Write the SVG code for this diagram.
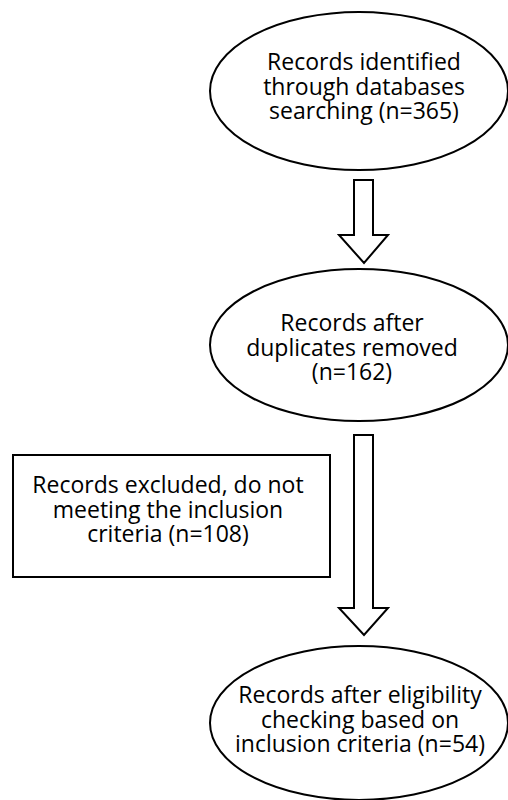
<svg xmlns="http://www.w3.org/2000/svg" width="508" height="800" viewBox="0 0 508 800">
<style>
.shape{fill:#fff;stroke:#000;stroke-width:2}
.t{font-family:"Open Sans","Liberation Sans",sans-serif;font-size:23px;fill:#000;text-anchor:middle}
</style>
<rect width="508" height="800" fill="#fff"/>
<g id="connectors">
<path class="shape" d="M354,180 H373 V235 H388 L364,263 L339,235 H354 Z"/>
<path class="shape" d="M354,435 H373 V608 H388 L364,635 L339,608 H354 Z"/>
</g>
<g id="n1">
<ellipse class="shape" cx="359" cy="91" rx="149" ry="79"/>
<text class="t" x="364" y="70">Records identified</text>
<text class="t" x="364" y="94.5">through databases</text>
<text class="t" x="364" y="119">searching (n=365)</text>
</g>
<g id="n2">
<ellipse class="shape" cx="359" cy="345" rx="149" ry="76"/>
<text class="t" x="352" y="331">Records after</text>
<text class="t" x="352" y="355.5">duplicates removed</text>
<text class="t" x="352" y="380">(n=162)</text>
</g>
<g id="n3">
<rect class="shape" x="13" y="455" width="317" height="122"/>
<text class="t" x="168" y="493">Records excluded, do not</text>
<text class="t" x="168" y="517.5">meeting the inclusion</text>
<text class="t" x="168" y="542">criteria (n=108)</text>
</g>
<g id="n4">
<ellipse class="shape" cx="359" cy="723" rx="149" ry="77"/>
<text class="t" x="360" y="703">Records after eligibility</text>
<text class="t" x="360" y="727.5">checking based on</text>
<text class="t" x="360" y="752">inclusion criteria (n=54)</text>
</g>
</svg>
